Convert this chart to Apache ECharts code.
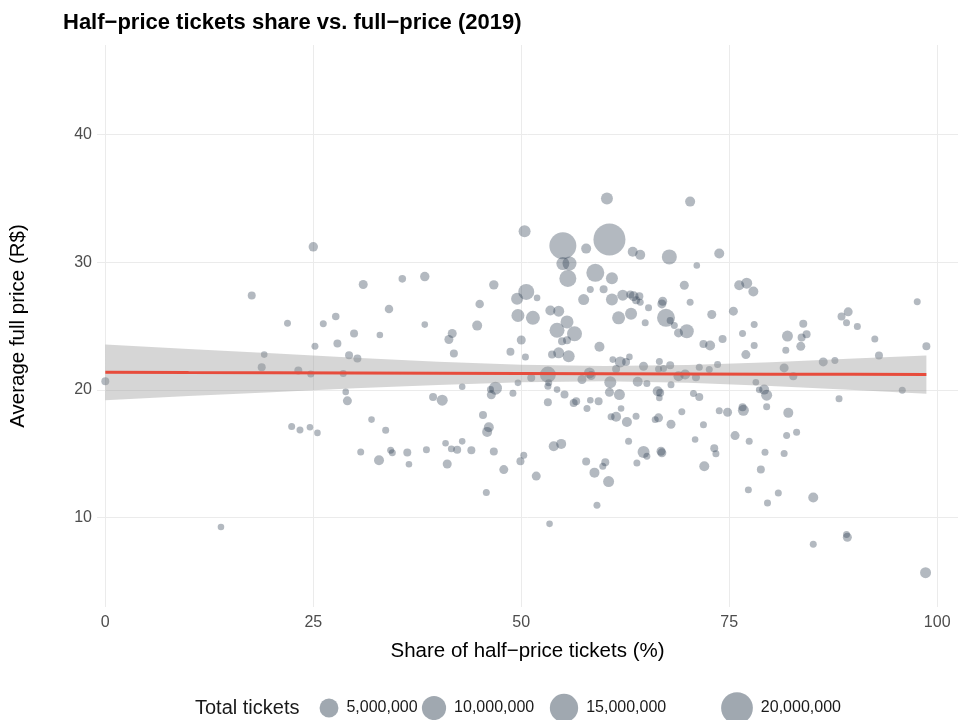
<!DOCTYPE html>
<html><head><meta charset="utf-8">
<script src="https://cdn.jsdelivr.net/npm/echarts@6/dist/echarts.min.js"></script>
<style>html,body{margin:0;padding:0;background:#fff}#c{width:972px;height:720px}</style>
</head><body><div id="c"></div>
<script>
// Share of half-price tickets (%)
const shareHalf = [0.0,13.9,17.6,19.1,18.8,21.9,23.2,22.4,23.4,25.0,31.0,35.7,38.4,26.2,27.7,29.9,33.0,34.1,38.4,41.7,44.7,45.0,46.7,49.5,49.6,41.3,25.2,27.9,29.3,30.3,41.9,48.7,50.0,24.7,28.6,28.9,29.1,39.4,40.5,42.9,46.9,46.3,46.4,49.0,49.6,32.0,33.7,24.6,25.5,45.4,46.1,45.9,30.7,32.9,34.3,34.5,36.3,36.5,38.6,40.9,41.6,42.3,42.9,44.0,41.1,46.7,47.9,49.9,45.8,60.3,70.3,50.4,55.0,60.6,57.8,63.4,64.3,67.8,73.8,71.1,55.0,55.8,55.6,58.9,60.9,50.6,51.9,58.3,59.9,57.5,60.9,62.2,63.1,63.5,64.2,64.3,63.8,65.3,67.0,66.9,69.6,70.3,72.9,75.5,76.2,51.4,53.5,54.5,55.5,54.3,56.4,61.7,63.2,64.9,67.4,67.9,68.4,69.9,68.9,77.1,77.9,78.0,76.6,82.0,83.9,84.3,83.7,88.5,89.3,89.1,90.4,97.6,54.9,55.5,59.4,50.5,53.7,54.5,55.7,61.0,61.9,62.6,63.0,61.4,64.7,66.6,66.5,67.1,67.9,68.9,69.7,71.4,72.6,73.6,71.0,71.9,72.7,74.2,51.2,53.2,53.3,53.2,54.3,55.2,53.2,56.3,56.6,57.9,58.3,59.3,57.3,58.2,58.4,60.7,60.6,61.8,64.0,65.1,66.4,66.7,66.6,68.0,70.7,71.4,62.0,60.8,61.4,62.7,63.8,66.1,66.5,68.0,69.3,71.9,73.8,74.8,75.7,70.9,73.2,73.4,62.9,53.9,54.8,50.3,51.8,57.8,58.8,59.8,60.1,60.5,63.9,64.7,65.1,66.8,66.9,72.0,59.1,53.4,77.0,78.0,81.8,83.6,92.5,98.7,86.3,87.7,93.0,81.6,82.7,78.2,78.6,79.2,79.5,95.8,88.2,76.6,76.7,79.5,82.1,77.4,81.9,83.1,79.3,81.6,78.8,77.3,79.6,80.9,85.1,85.1,89.1,89.2,98.6];
// Average full price (R$)
const avgFullPrice = [20.67,9.27,27.38,22.76,21.77,25.21,21.51,17.13,16.85,31.2,28.25,28.69,28.87,25.17,25.74,24.41,24.29,26.34,25.11,24.41,25.03,26.73,28.22,27.13,25.82,23.94,23.41,23.63,22.71,22.45,22.84,22.98,23.9,21.25,21.28,19.84,19.14,19.45,19.19,20.24,20.13,20.02,19.61,19.73,20.55,17.67,16.84,17.07,16.63,18.04,17.07,16.71,15.14,14.49,15.27,15.07,15.09,14.17,15.32,15.82,15.38,15.32,15.97,15.27,14.2,15.17,13.76,14.41,11.96,34.98,34.74,32.42,31.28,31.77,31.06,30.81,30.57,30.41,30.67,29.73,29.89,29.89,28.72,29.16,28.74,27.67,27.2,27.85,27.88,27.07,27.07,27.41,27.46,27.33,27.33,26.86,27.02,26.42,26.94,26.73,28.19,26.86,25.9,26.16,28.19,25.64,26.21,26.16,25.32,24.67,24.39,25.64,25.95,25.25,25.64,25.43,25.04,24.59,24.46,28.35,27.7,25.11,24.41,24.21,25.17,24.35,24.1,25.74,26.11,25.25,24.96,26.89,23.81,23.88,23.37,22.58,22.76,22.9,22.63,22.37,22.19,22.19,22.58,21.64,21.85,22.22,21.64,21.67,21.93,21.06,21.2,21.77,21.59,21.98,20.99,23.6,23.47,23.99,20.94,21.2,20.55,20.28,20.02,19.63,19.03,18.98,19.11,18.54,19.19,19.11,20.81,21.33,21.12,20.6,19.81,19.63,20.63,20.49,19.89,19.77,19.37,20.41,19.71,19.45,18.54,17.89,17.89,17.49,17.93,17.67,17.81,17.31,18.28,17.26,18.36,18.25,16.42,16.11,15.43,14.99,15.97,15.58,15.77,14.88,13.25,14.39,13.52,14.02,14.33,12.82,14.28,15.14,14.8,15.19,15.07,14.02,10.96,9.51,22.76,23.47,23.1,23.41,23.99,23.41,22.19,22.29,22.69,21.72,21.06,20.6,20.0,20.02,19.58,19.97,19.3,18.64,18.4,18.67,18.2,15.97,16.42,16.68,15.11,15.01,13.76,12.17,11.15,11.93,11.57,7.91,8.67,8.46,5.69];
// Total tickets
const totalTickets = [120000,10000,120000,10000,120000,30000,120000,30000,30000,350000,272000,70000,350000,30000,70000,120000,10000,190000,10000,272000,483000,190000,350000,1086000,1478000,272000,30000,120000,120000,120000,120000,120000,272000,30000,30000,10000,272000,120000,754000,10000,1478000,30000,272000,30000,10000,10000,30000,10000,10000,120000,483000,483000,30000,483000,30000,30000,120000,10000,30000,10000,30000,120000,10000,120000,272000,120000,272000,120000,30000,1086000,483000,1086000,13300000,20400000,483000,483000,483000,2444000,483000,10000,1478000,1931000,3650000,4345000,1086000,3018000,10000,30000,120000,754000,1086000,754000,120000,483000,120000,30000,120000,30000,272000,272000,272000,30000,272000,272000,483000,1931000,483000,754000,1478000,2444000,2444000,1478000,1086000,30000,4345000,30000,30000,1931000,272000,754000,483000,30000,30000,754000,120000,120000,120000,120000,272000,30000,30000,30000,120000,120000,483000,30000,120000,754000,1086000,10000,754000,120000,10000,120000,272000,30000,30000,30000,120000,483000,483000,30000,30000,30000,120000,120000,483000,120000,120000,3018000,30000,30000,10000,120000,120000,120000,120000,30000,10000,120000,272000,754000,272000,1086000,272000,754000,483000,30000,483000,120000,10000,30000,30000,120000,10000,30000,483000,483000,30000,30000,272000,272000,30000,30000,30000,272000,272000,10000,120000,30000,30000,483000,483000,30000,272000,120000,483000,30000,120000,754000,30000,1086000,30000,272000,272000,483000,30000,10000,272000,30000,30000,272000,30000,120000,272000,30000,120000,272000,120000,10000,10000,483000,754000,30000,30000,120000,754000,30000,483000,30000,30000,30000,30000,30000,120000,30000,30000,30000,483000,30000,30000,272000,754000];
// Linear fit with 95% band
const fitX  = [0,10,20,30,40,50,60,70,80,90,98.7];
const fitY  = [21.37,21.35,21.34,21.32,21.30,21.28,21.27,21.25,21.23,21.22,21.20];
const fitLo = [19.19,19.51,19.82,20.12,20.39,20.59,20.67,20.55,20.30,19.99,19.70];
const fitHi = [23.55,23.19,22.86,22.52,22.21,21.97,21.87,21.95,22.16,22.45,22.70];
const xTicks = [0,25,50,75,100];
const yTicks = [10,20,30,40];
const legendValues = [5000000,10000000,15000000,20000000];
const legendLabels = ['5,000,000','10,000,000','15,000,000','20,000,000'];

const FONT = '"Liberation Sans", Arial, sans-serif';
const PT = 'rgba(44,62,80,0.45)';
function sizeOf(v){ return 6 + 27*Math.sqrt(v/22000000); }

const points = shareHalf.map((x,i)=>[x, avgFullPrice[i], totalTickets[i]]);
const band = fitX.map((x,i)=>[x, fitLo[i], fitHi[i]]);
const fit = fitX.map((x,i)=>[x, fitY[i]]);

const chart = echarts.init(document.getElementById('c'), null, {renderer:'canvas'});

// legend graphics
const legX = [329, 434, 564, 737];
const graphics = [{type:'text', x:195, y:708, style:{text:'Total tickets', font:'20px '+FONT, fill:'#1a1a1a', textVerticalAlign:'middle'}}];
legendValues.forEach((v,i)=>{
  const r = sizeOf(v)/2;
  graphics.push({type:'circle', shape:{cx:legX[i], cy:708, r:r}, style:{fill:PT}});
  graphics.push({type:'text', x:legX[i]+r+8, y:708, style:{text:legendLabels[i], font:'16px '+FONT, fill:'#1a1a1a', textVerticalAlign:'middle'}});
});

chart.setOption({
  animation:false,
  backgroundColor:'#fff',
  title:{text:'Half\u2212price tickets share vs. full\u2212price (2019)', left:63, top:12, padding:0,
    textStyle:{fontFamily:FONT, fontSize:22, fontWeight:'bold', color:'#000'}},
  grid:{left:97, right:14, top:45, bottom:113},
  xAxis:{type:'value', min:-1, max:102.5,
    name:'Share of half\u2212price tickets (%)', nameLocation:'middle', nameGap:34,
    nameTextStyle:{fontFamily:FONT, fontSize:20.5, color:'#000'},
    axisLine:{show:false}, axisTick:{show:false, customValues:xTicks},
    axisLabel:{customValues:xTicks, margin:8, fontFamily:FONT, fontSize:16, color:'#4d4d4d'},
    splitLine:{show:true, lineStyle:{color:'#ebebeb', width:1}}},
  yAxis:{type:'value', min:3, max:47,
    name:'Average full price (R$)', nameLocation:'middle', nameGap:68, nameRotate:90,
    nameTextStyle:{fontFamily:FONT, fontSize:20.5, color:'#000'},
    axisLine:{show:false}, axisTick:{show:false, customValues:yTicks},
    axisLabel:{customValues:yTicks, margin:5, fontFamily:FONT, fontSize:16, color:'#4d4d4d'},
    splitLine:{show:true, lineStyle:{color:'#ebebeb', width:1}}},
  graphic:graphics,
  series:[
    {type:'scatter', data:points, symbolSize:d=>sizeOf(d[2]), itemStyle:{color:PT, borderWidth:0}, z:2, silent:true},
    {type:'custom', data:band, encode:{x:0, y:[1,2]}, z:3, silent:true,
      renderItem:function(params, api){
        if (params.dataIndex !== 0) return null;
        const pts = [];
        for (let i=0;i<band.length;i++) pts.push(api.coord([band[i][0], band[i][2]]));
        for (let i=band.length-1;i>=0;i--) pts.push(api.coord([band[i][0], band[i][1]]));
        return {type:'polygon', shape:{points:pts}, style:{fill:'rgba(153,153,153,0.4)'}};
      }},
    {type:'line', data:fit, symbol:'none', lineStyle:{color:'#E74C3C', width:3}, z:4, silent:true}
  ]
});
</script></body></html>
